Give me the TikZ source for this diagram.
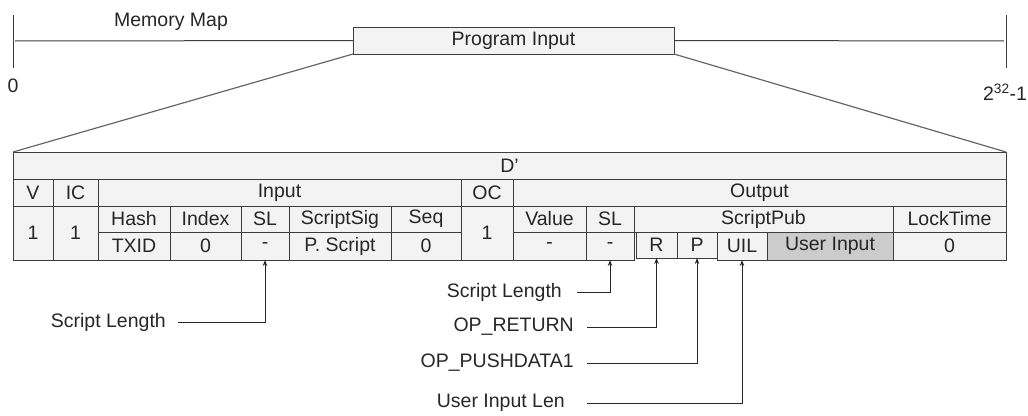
\documentclass[tikz,border=0pt]{standalone}
\usepackage{fontspec}
\setmainfont{Liberation Sans}
\usetikzlibrary{arrows.meta}
\definecolor{cellfill}{HTML}{F3F3F3}
\definecolor{userfill}{HTML}{CCCCCC}
\definecolor{edge}{HTML}{3C3C3C}
\begin{document}
\begin{tikzpicture}[x=1pt,y=-1pt,
    every node/.style={font=\fontsize{19.5}{22}\selectfont,text=black!85},
    cell/.style={draw=edge,line width=0.9pt,anchor=north west,inner sep=0pt,outer sep=0pt},
    note/.style={anchor=east,inner xsep=12pt,inner ysep=0pt},
    ptr/.style={-{Stealth[length=6pt,width=4.5pt]},line width=1pt,black!85},
    slant/.style={gray!80!black,line width=1.2pt}]
    \useasboundingbox (0,0) rectangle (1028,415);

    % memory map
    \coordinate (lo) at (15,41);
    \coordinate (hi) at (1004,41);
    \draw [edge,line width=1pt] (13,15)--(13,68);
    \draw [edge,line width=1pt] (1006,15)--(1006,68);
    \node [cell,fill=cellfill,minimum width=321pt,minimum height=27pt] (prog) at (353,27) {Program Input};
    \draw [edge,line width=1pt] (lo)--(prog.west);
    \draw [edge,line width=1pt] (prog.east)--(hi);
    \node (mm) at (171,22) {Memory Map};
    \node (zero) at (13,86) {0};
    \node (top) at (1005,92) {2\textsuperscript{32}-1};

    % transaction D'
    \foreach \n/\xa/\ya/\xb/\yb/\c/\t in {
        d/13/152/1006/179/cellfill/D’,
        v/13/179/53/206/cellfill/V, v1/13/206/53/260/cellfill/1,
        ic/53/179/98/206/cellfill/IC, ic1/53/206/98/260/cellfill/1,
        in/98/179/461/206/cellfill/Input,
        hash/98/206/170/232/cellfill/Hash, txid/98/232/170/260/cellfill/TXID,
        idx/170/206/241/232/cellfill/Index, idx0/170/232/241/260/cellfill/0,
        sla/241/206/289/232/cellfill/SL, sla0/241/232/289/260/cellfill/-,
        sig/289/206/391/232/cellfill/ScriptSig, sig0/289/232/391/260/cellfill/P. Script,
        seq/391/206/461/232/cellfill/Seq, seq0/391/232/461/260/cellfill/0,
        oc/461/179/513/206/cellfill/OC, oc1/461/206/513/260/cellfill/1,
        out/513/179/1006/206/cellfill/Output,
        val/513/206/586/232/cellfill/Value, val0/513/232/586/260/cellfill/-,
        slb/586/206/634/232/cellfill/SL, slb0/586/232/634/260/cellfill/-,
        pub/634/206/893/232/cellfill/ScriptPub,
        r/636/232/677/258/cellfill/R, p/677/232/717/258/cellfill/P,
        uil/717/232/767/260/cellfill/UIL, user/767/232/893/260/userfill/User Input,
        lock/893/206/1006/232/cellfill/LockTime, lock0/893/232/1006/260/cellfill/0}
        \node [cell,fill=\c,minimum width={(\xb-\xa)*1pt},minimum height={(\yb-\ya)*1pt}] (\n) at (\xa,\ya) {\t};

    \draw [slant] (prog.south west)--(d.north west);
    \draw [slant] (prog.south east)--(d.north east);

    % pointers
    \node [note] (lsla) at (178,322) {Script Length};
    \node [note,inner xsep=15pt] (lslb) at (577,292) {Script Length};
    \node [note,inner xsep=13pt] (lr) at (587,327) {OP\_RETURN};
    \node [note,inner xsep=13pt] (lp) at (587,363) {OP\_PUSHDATA1};
    \node [note,inner xsep=22pt] (luil) at (587,403) {User Input Len};
    \draw [ptr] (lsla.east) -| (sla0.south);
    \draw [ptr] (lslb.east) -| (slb0.south);
    \draw [ptr] (lr.east) -| (r.south);
    \draw [ptr] (lp.east) -| (p.south);
    \draw [ptr] (luil.east) -| (uil.south);
\end{tikzpicture}
\end{document}
